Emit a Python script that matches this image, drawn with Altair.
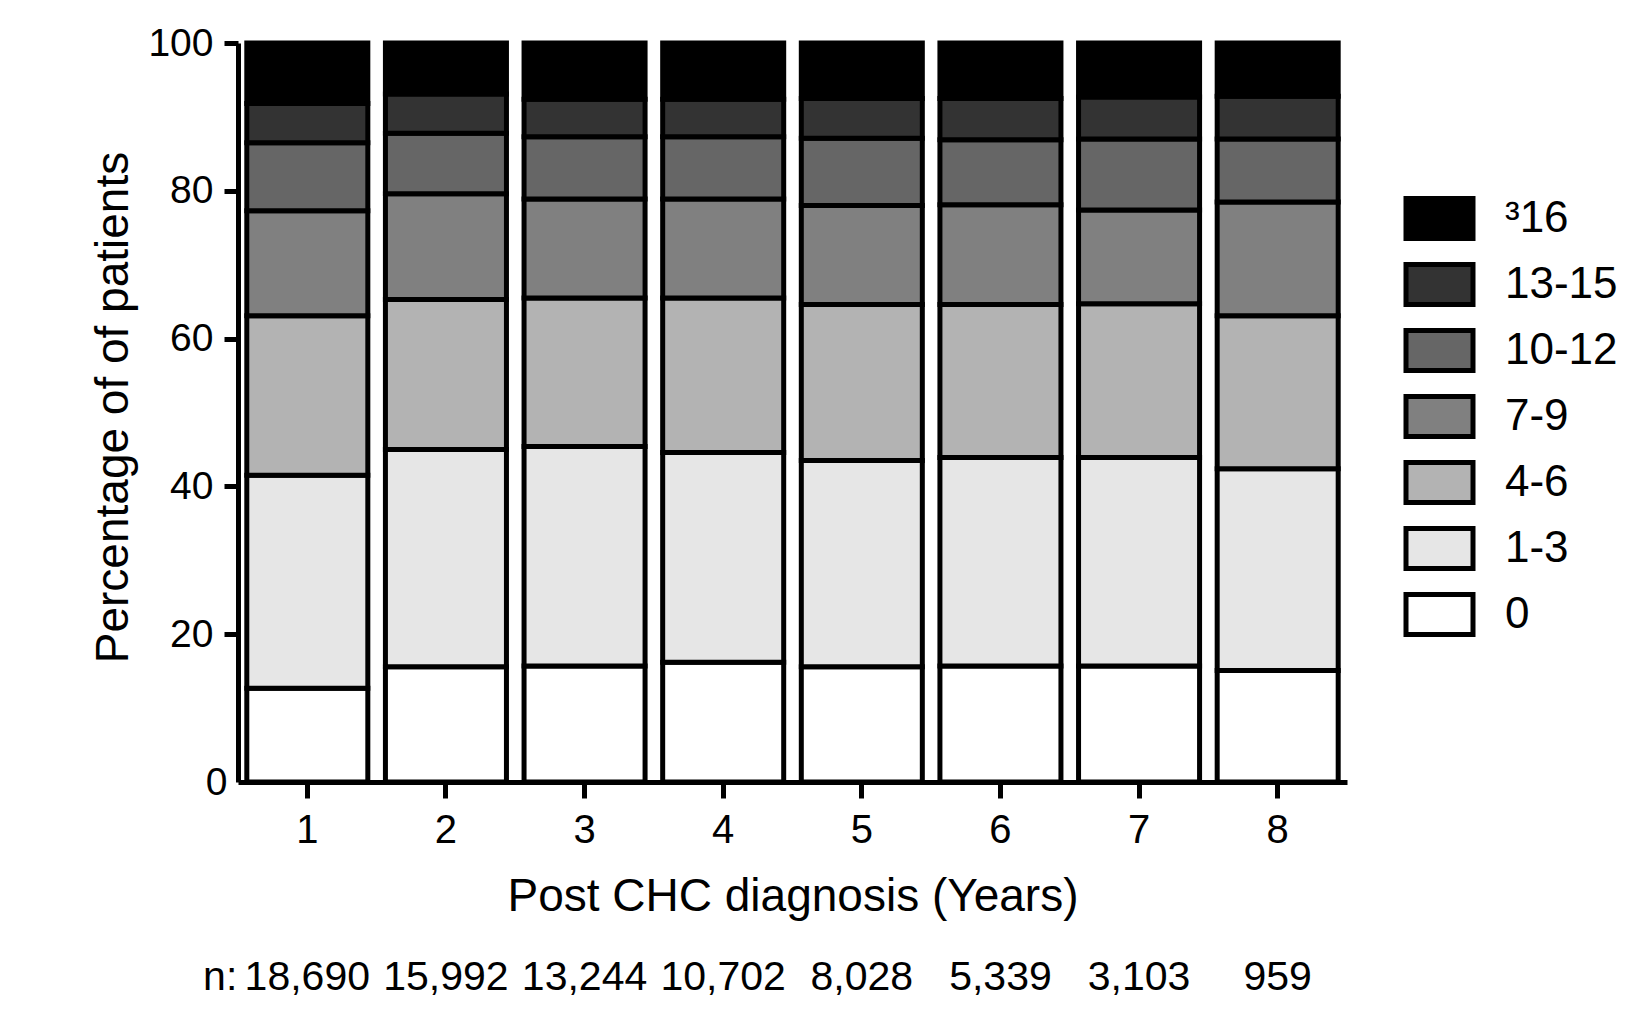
import altair as alt
import pandas as pd

years = ["1", "2", "3", "4", "5", "6", "7", "8"]
n_labels = ["18,690", "15,992", "13,244", "10,702", "8,028", "5,339", "3,103", "959"]

categories = ["0", "1-3", "4-6", "7-9", "10-12", "13-15", "³16"]
colors = ["#ffffff", "#e6e6e6", "#b3b3b3", "#808080", "#666666", "#333333", "#000000"]

pct_0 = [12.7, 15.6, 15.7, 16.2, 15.6, 15.7, 15.7, 15.1]
pct_1_3 = [28.8, 29.4, 29.7, 28.4, 27.9, 28.2, 28.2, 27.3]
pct_4_6 = [21.6, 20.3, 20.1, 20.9, 21.1, 20.7, 20.8, 20.7]
pct_7_9 = [14.2, 14.3, 13.4, 13.4, 13.4, 13.5, 12.7, 15.4]
pct_10_12 = [9.2, 8.2, 8.4, 8.4, 9.1, 8.8, 9.6, 8.5]
pct_13_15 = [5.3, 5.3, 5.1, 5.1, 5.4, 5.6, 5.7, 5.8]
pct_16 = [8.2, 6.9, 7.6, 7.6, 7.5, 7.5, 7.3, 7.2]

series = [pct_0, pct_1_3, pct_4_6, pct_7_9, pct_10_12, pct_13_15, pct_16]

rows = []
for ci, (cat, vals) in enumerate(zip(categories, series)):
    for yr, v in zip(years, vals):
        rows.append({"year": yr, "category": cat, "order": ci, "pct": v})
df = pd.DataFrame(rows)

n_df = pd.DataFrame({"year": years, "n": n_labels})
prefix_df = pd.DataFrame({"year": [years[0]], "t": ["n:"]})

FONT = "Liberation Sans"

x_scale = alt.Scale(paddingInner=0.127, paddingOuter=0.0635)

x_axis = alt.Axis(
    title="Post CHC diagnosis (Years)",
    labelAngle=0,
    labelFont=FONT,
    labelFontSize=40,
    labelColor="black",
    labelPadding=12,
    tickSize=16,
    tickWidth=5,
    tickColor="black",
    domainColor="black",
    domainWidth=5,
    titleFont=FONT,
    titleFontSize=46,
    titleFontWeight="normal",
    titleColor="black",
    titleY=128,
    titleBaseline="alphabetic",
    grid=False,
)

y_axis = alt.Axis(
    title="Percentage of of patients",
    values=[0, 20, 40, 60, 80, 100],
    labelFont=FONT,
    labelFontSize=39,
    labelColor="black",
    labelPadding={"condition": {"test": "datum.value === 0", "value": -3}, "value": 11},
    tickSize=14,
    tickWidth=5,
    tickColor="black",
    tickOpacity={"condition": {"test": "datum.value === 0", "value": 0}, "value": 1},
    domainColor="black",
    domainWidth=5,
    titleFont=FONT,
    titleFontSize=46,
    titleFontWeight="normal",
    titleColor="black",
    titleX=-111,
    titleY=364,
    titleAlign="center",
    titleBaseline="alphabetic",
    grid=False,
)

bars = alt.Chart(df).mark_bar(stroke="black", strokeWidth=5).encode(
    x=alt.X("year:N", sort=years, scale=x_scale, axis=x_axis),
    y=alt.Y("pct:Q", stack="zero", scale=alt.Scale(domain=[0, 100], nice=False), axis=y_axis),
    color=alt.Color(
        "category:N",
        scale=alt.Scale(domain=categories[::-1], range=colors[::-1]),
        legend=alt.Legend(
            title=None,
            orient="none",
            legendX=1179,
            legendY=153,
            symbolType="M-1.675,-1H1.675V1H-1.675Z",
            symbolSize=1600,
            symbolStrokeColor="black",
            symbolStrokeWidth=5,
            symbolOpacity=1,
            labelFont=FONT,
            labelFontSize=44,
            labelColor="black",
            labelOffset=43,
            rowPadding=5,
            padding=0,
        ),
    ),
    order=alt.Order("order:Q", sort="ascending"),
)

n_text = alt.Chart(n_df).mark_text(
    font=FONT, fontSize=41, color="black", baseline="middle", align="center"
).encode(
    x=alt.X("year:N", sort=years, scale=x_scale, axis=x_axis),
    y=alt.value(935),
    text="n:N",
)

prefix_text = alt.Chart(prefix_df).mark_text(
    font=FONT, fontSize=41, color="black", baseline="middle", align="right", dx=-70
).encode(
    x=alt.X("year:N", sort=years, scale=x_scale, axis=x_axis),
    y=alt.value(935),
    text="t:N",
)

chart = alt.layer(bars, n_text, prefix_text).properties(
    width=1109,
    height=739,
    padding={"left": 238, "top": 43, "right": 296, "bottom": 242},
    autosize=alt.AutoSizeParams(type="none"),
    background="white",
).configure_view(stroke=None)

chart.save("out.html", embed_options={"renderer": "svg", "actions": False})
